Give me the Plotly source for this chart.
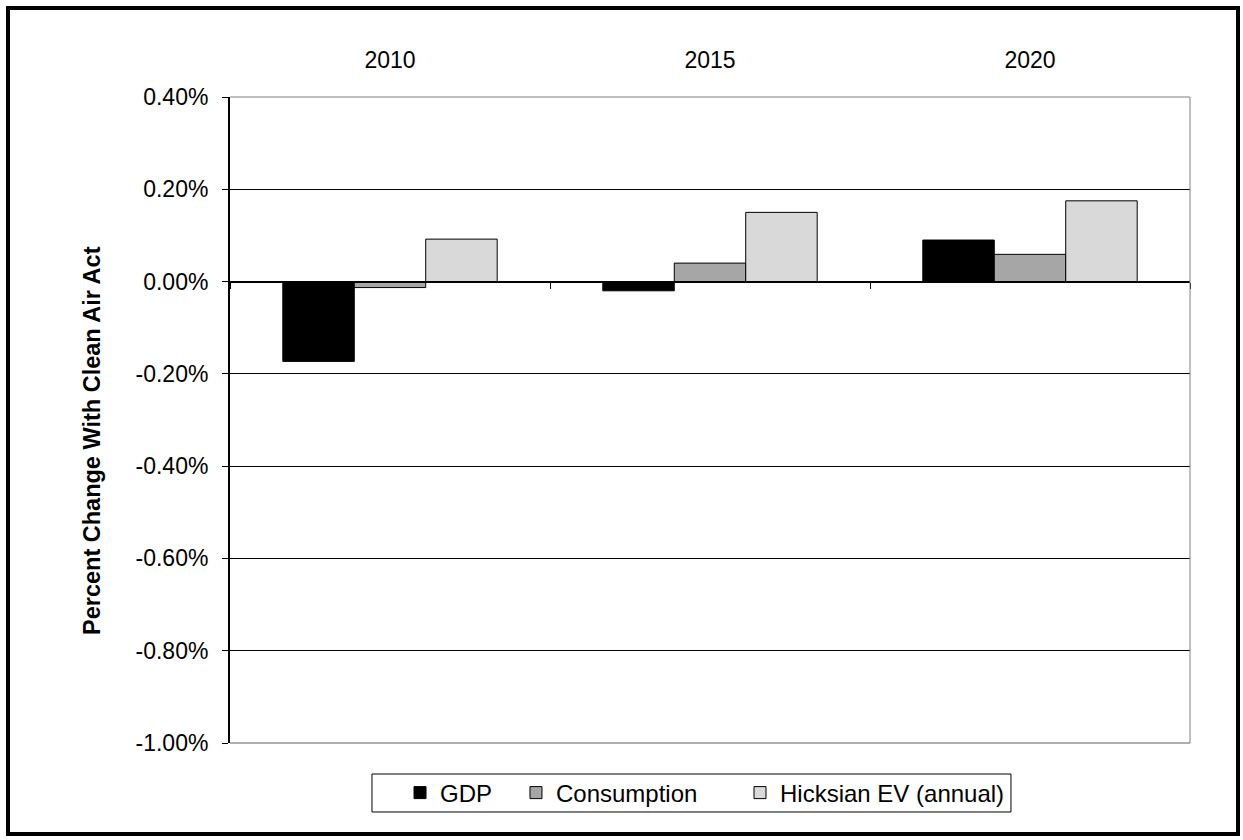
import plotly.graph_objects as go

# Percent change in each year with the Clean Air Act in place
years = ["2010", "2015", "2020"]
gdp = [-0.173, -0.020, 0.090]
consumption = [-0.013, 0.040, 0.059]
hicksian_ev = [0.092, 0.150, 0.175]

y_ticks = [0.4, 0.2, 0.0, -0.2, -0.4, -0.6, -0.8, -1.0]
y_range = [-1.0, 0.4]

FONT = "Liberation Sans, Arial, sans-serif"

series = [
    ("GDP", gdp, "#000000", "legend", 0.1771),
    ("Consumption", consumption, "#A6A6A6", "legend2", 0.2979),
    ("Hicksian EV (annual)", hicksian_ev, "#D9D9D9", "legend3", 0.53125),
]

fig = go.Figure()
for name, vals, color, leg, _ in series:
    fig.add_trace(go.Bar(
        x=years, y=vals, name=name, legend=leg,
        marker=dict(color=color, line=dict(color="#000000", width=1)),
    ))

# invisible trace that carries the category axis drawn through zero
fig.add_trace(go.Bar(x=years, y=[0, 0, 0], xaxis="x2", showlegend=False,
                     hoverinfo="skip", marker=dict(color="rgba(0,0,0,0)")))

zero_pos = (0 - y_range[0]) / (y_range[1] - y_range[0])

legend_style = dict(
    orientation="h", y=-0.0774, xanchor="left", yanchor="middle",
    borderwidth=0, bgcolor="rgba(0,0,0,0)",
    font=dict(size=24), itemwidth=30,
)
legends = {}
for i, (_, _, _, leg, lx) in enumerate(series):
    legends[leg] = dict(legend_style, x=lx)

fig.update_layout(
    width=1243, height=840,
    margin=dict(l=230, r=53, t=97, b=97),
    paper_bgcolor="white", plot_bgcolor="white",
    font=dict(family=FONT, size=23, color="#000000"),
    barmode="group", bargap=0.33, bargroupgap=0,
    xaxis=dict(
        side="top", showline=False, showgrid=False, zeroline=False,
        ticks="outside", ticklen=19, tickcolor="rgba(0,0,0,0)",
        tickfont=dict(size=23),
    ),
    xaxis2=dict(
        overlaying="x", anchor="free", position=zero_pos,
        showline=True, linecolor="#000000", linewidth=2,
        showgrid=False, zeroline=False, showticklabels=False,
        ticks="outside", tickson="boundaries", ticklen=6,
        tickcolor="#000000", tickwidth=1,
    ),
    yaxis=dict(
        range=y_range, tickvals=y_ticks,
        ticktext=[f"{v:.2f}%" for v in y_ticks],
        showline=True, linecolor="#000000", linewidth=2,
        showgrid=True, gridcolor="#000000", gridwidth=1,
        zeroline=False,
        ticks="outside", ticklen=6, tickcolor="#000000",
        ticklabelstandoff=9,
        tickfont=dict(size=23),
    ),
    showlegend=True,
    annotations=[dict(
        text="<b>Percent Change With Clean Air Act</b>",
        xref="paper", yref="paper", x=-0.14375, y=0.4675,
        xanchor="center", yanchor="middle",
        textangle=-90, showarrow=False,
        font=dict(family=FONT, size=23.5),
    )],
    shapes=[
        # plot area border on top, right and bottom
        dict(type="line", xref="paper", yref="paper", x0=0, x1=1, y0=1, y1=1,
             line=dict(color="#808080", width=1)),
        dict(type="line", xref="paper", yref="paper", x0=1, x1=1, y0=0, y1=1,
             line=dict(color="#808080", width=1)),
        dict(type="line", xref="paper", yref="paper", x0=0, x1=1, y0=0, y1=0,
             line=dict(color="#606060", width=1)),
        # legend box
        dict(type="rect", xref="paper", yref="paper",
             x0=0.1479, x1=0.8135, y0=-0.1068, y1=-0.048,
             line=dict(color="#000000", width=1)),
        # outer chart frame
        dict(type="rect", xref="paper", yref="paper",
             x0=-0.23125, x1=1.05, y0=-0.1409, y1=1.1378,
             line=dict(color="#000000", width=4)),
    ],
)
fig.update_layout(**legends)

fig.write_html("out.html")
